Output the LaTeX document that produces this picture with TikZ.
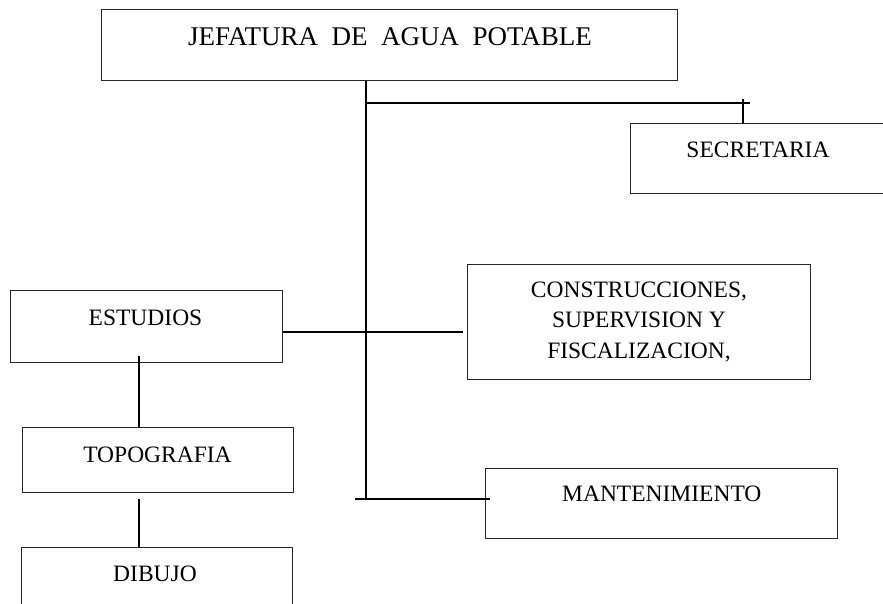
\documentclass[tikz,border=0pt]{standalone}
\usepackage{fontspec}
\setmainfont{Liberation Serif}
\tikzset{
  orgbox/.style={draw=black!85, line width=1pt, inner sep=0pt, rectangle},
  conn/.style={draw=black, line width=1.6pt},
  lbl/.style={inner sep=0pt, anchor=base, font=\fontsize{23.5}{28}\selectfont},
  biglbl/.style={inner sep=0pt, anchor=base, font=\fontsize{27}{32}\selectfont},
}
\begin{document}
\begin{tikzpicture}[x=1pt,y=-1pt]
\useasboundingbox (0,0) rectangle (883,604);
% boxes
\node[orgbox, minimum width=576.7pt, minimum height=71.4pt] (jef) at (389.4,45) {};
\node[orgbox, minimum width=256pt, minimum height=70pt] (sec) at (758,158.3) {};
\node[orgbox, minimum width=272.3pt, minimum height=71.6pt] (est) at (146.2,326.5) {};
\node[orgbox, minimum width=343.4pt, minimum height=115pt] (con) at (639,321.8) {};
\node[orgbox, minimum width=271pt, minimum height=65.4pt] (topo) at (157.8,460) {};
\node[orgbox, minimum width=271pt, minimum height=70pt] (dib) at (156.5,582.3) {};
\node[orgbox, minimum width=351.7pt, minimum height=70pt] (man) at (661.8,503.3) {};
% labels
\node[biglbl] (tjef) at (390,46) {JEFATURA\ \ DE\ \ AGUA\ \ POTABLE};
\node[lbl] (tsec) at (758,157.3) {SECRETARIA};
\node[lbl] (test) at (145.5,325.7) {ESTUDIOS};
\node[lbl] (tcon1) at (639,297.3) {CONSTRUCCIONES,};
\node[lbl] (tcon2) at (639,327.8) {SUPERVISION Y};
\node[lbl] (tcon3) at (639,358.3) {FISCALIZACION,};
\node[lbl] (ttopo) at (157.5,462.3) {TOPOGRAFIA};
\node[lbl] (tman) at (661.8,501) {MANTENIMIENTO};
\node[lbl] (tdib) at (155,581.7) {DIBUJO};
% junction coordinates
\coordinate (jtop) at (366,103);
\coordinate (jsecend) at (750,103);
\coordinate (jsec) at (742.7,99.3);
\coordinate (jmid) at (366,331.7);
\coordinate (jmidr) at (463,331.7);
\coordinate (jbot) at (366,499);
\coordinate (jbotl) at (355,499);
\coordinate (jbotr) at (490,499);
\coordinate (jest) at (139,356);
\coordinate (jtopo) at (139,499);
% connectors
\draw[conn] (jef.south -| jtop) -- (jbot);
\draw[conn] (jtop) -- (jsecend);
\draw[conn] (jsec) -- (jsec |- sec.north);
\draw[conn] (est.east |- jmid) -- (jmidr);
\draw[conn, line width=2pt] (jbotl) -- (jbotr);
\draw[conn] (jest) -- (jest |- topo.north);
\draw[conn] (jtopo) -- (jtopo |- dib.north);
\end{tikzpicture}
\end{document}
